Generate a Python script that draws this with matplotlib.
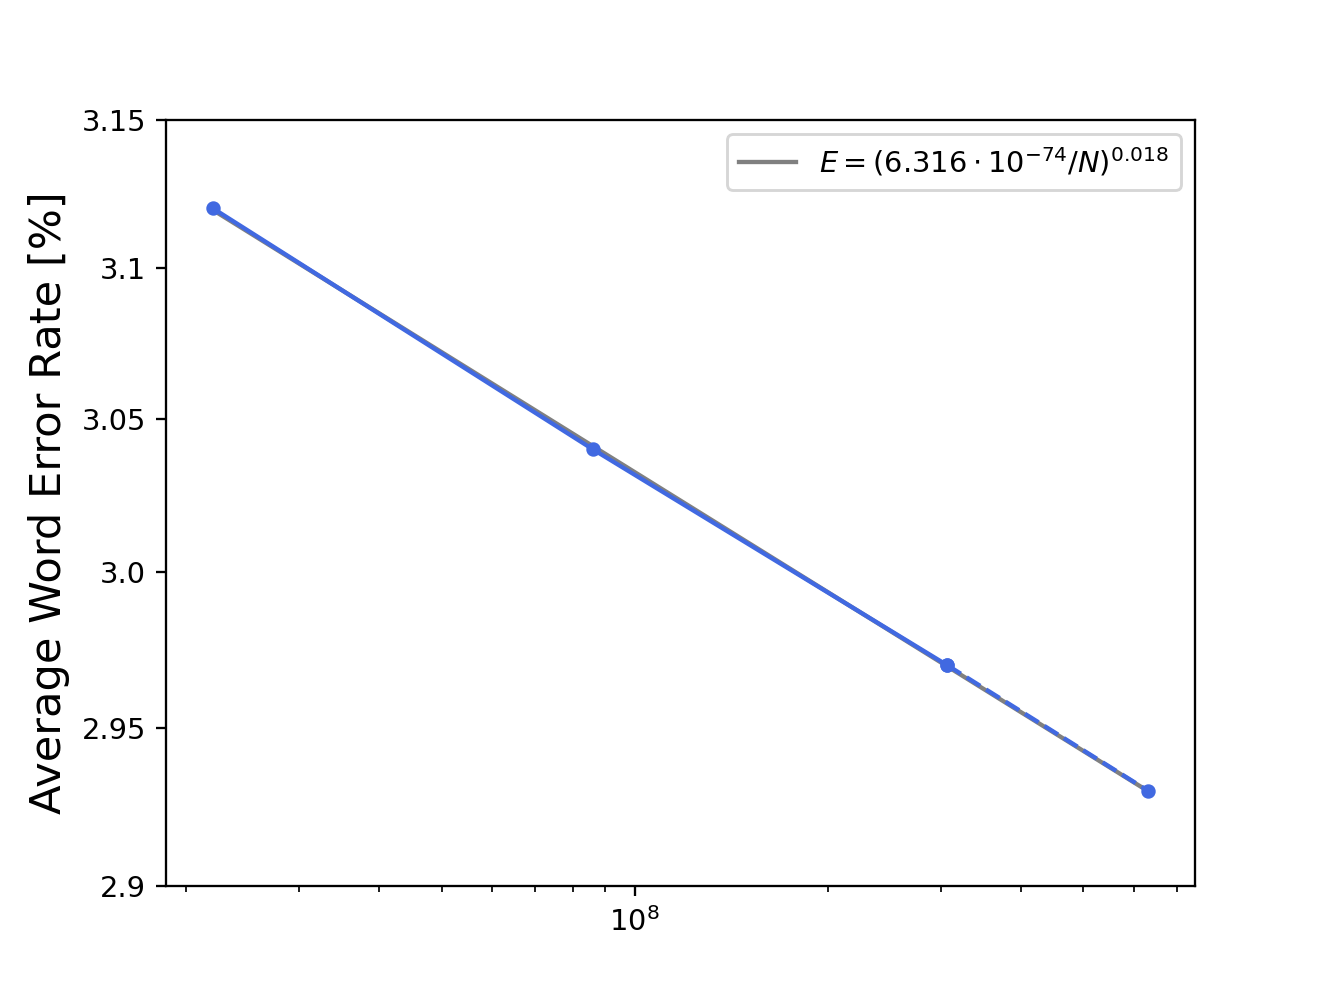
import numpy as np
import matplotlib
matplotlib.use("Agg")
import matplotlib.pyplot as plt
from matplotlib.ticker import NullLocator, NullFormatter

# model sizes (parameters) and average WER [%]
num_params = [22e6, 86e6, 307e6, 632e6]
avg_wer = [3.12, 3.04, 2.97, 2.93]

y_ticks = [2.9, 2.95, 3.0, 3.05, 3.1, 3.15]
fit_label = r'$E=(6.316\cdot10^{-74}/N)^{0.018}$'

# power-law fit of the measured points (straight line in log-log)
slope, intercept = np.polyfit(np.log10(num_params), np.log10(avg_wer), 1)
fit_x = np.array([num_params[0], num_params[-1]])
fit_y = 10 ** (intercept + slope * np.log10(fit_x))

fig, ax = plt.subplots(figsize=(6.4, 4.8), dpi=207.5)

ax.plot(fit_x, fit_y, color='gray', linewidth=1.5, label=fit_label)
ax.plot(num_params[:3], avg_wer[:3], '-o', color='royalblue', linewidth=1.5, markersize=4)
ax.plot(num_params[2:], avg_wer[2:], '--o', color='royalblue', linewidth=1.5, markersize=4)

ax.set_xscale('log')
ax.set_yscale('log')
ax.set_ylim(2.9, 3.15)
ax.set_yticks(y_ticks)
ax.set_yticklabels([str(v) for v in y_ticks])
ax.yaxis.set_minor_locator(NullLocator())
ax.yaxis.set_minor_formatter(NullFormatter())

ax.set_ylabel('Average Word Error Rate [%]', fontsize=15)
ax.legend(loc='upper right')

plt.savefig('out.png', dpi=207.5)
plt.close()
